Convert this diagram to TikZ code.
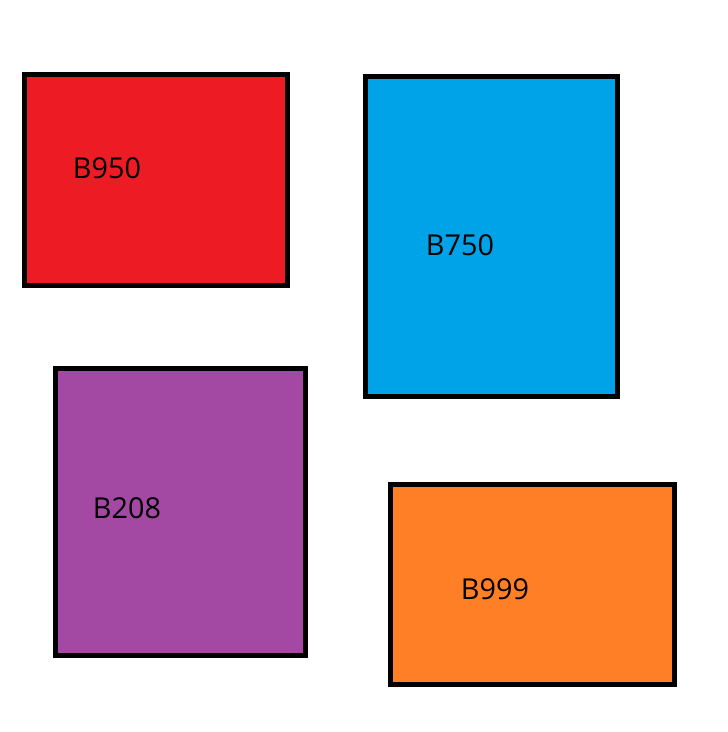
\documentclass[tikz,border=0pt]{standalone}
\usepackage{fontspec}
\setmainfont{Open Sans}
\definecolor{cred}{HTML}{ED1C24}
\definecolor{cblue}{HTML}{00A2E8}
\definecolor{cpurple}{HTML}{A349A4}
\definecolor{corange}{HTML}{FF7F27}
\begin{document}
\begin{tikzpicture}[x=1pt,y=-1pt,
  blockbox/.style={draw=black,line width=5pt},
  lbl/.style={inner sep=0pt,font=\fontsize{28.8}{34}\selectfont}]
\useasboundingbox (0,0) rectangle (728,732);
\filldraw[blockbox,fill=cred] (24.5,74.5) rectangle (287.5,285);
\filldraw[blockbox,fill=cblue] (365,76) rectangle (617.5,396.5);
\filldraw[blockbox,fill=cpurple] (55,368.5) rectangle (305,655);
\filldraw[blockbox,fill=corange] (390,484.5) rectangle (674.5,684);
\node[lbl] (b950) at (107,168) {B950};
\node[lbl] (b750) at (460,245) {B750};
\node[lbl] (b208) at (127,508) {B208};
\node[lbl] (b999) at (495,589) {B999};
\end{tikzpicture}
\end{document}
